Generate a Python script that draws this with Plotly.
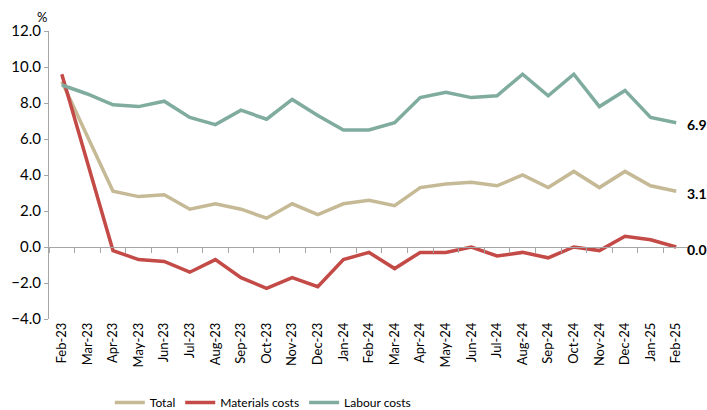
import plotly.graph_objects as go

months = ["Feb-23", "Mar-23", "Apr-23", "May-23", "Jun-23", "Jul-23", "Aug-23",
          "Sep-23", "Oct-23", "Nov-23", "Dec-23", "Jan-24", "Feb-24", "Mar-24",
          "Apr-24", "May-24", "Jun-24", "Jul-24", "Aug-24", "Sep-24", "Oct-24",
          "Nov-24", "Dec-24", "Jan-25", "Feb-25"]

total = [9.2, 6.2, 3.1, 2.8, 2.9, 2.1, 2.4, 2.1, 1.6, 2.4, 1.8, 2.4, 2.6, 2.3,
         3.3, 3.5, 3.6, 3.4, 4.0, 3.3, 4.2, 3.3, 4.2, 3.4, 3.1]
materials = [9.6, 4.7, -0.2, -0.7, -0.8, -1.4, -0.7, -1.7, -2.3, -1.7, -2.2, -0.7,
             -0.3, -1.2, -0.3, -0.3, 0.0, -0.5, -0.3, -0.6, 0.0, -0.2, 0.6, 0.4, 0.0]
labour = [9.0, 8.5, 7.9, 7.8, 8.1, 7.2, 6.8, 7.6, 7.1, 8.2, 7.3, 6.5, 6.5, 6.9,
          8.3, 8.6, 8.3, 8.4, 9.6, 8.4, 9.6, 7.8, 8.7, 7.2, 6.9]

series_names = ["Total", "Materials costs", "Labour costs"]
series_values = [total, materials, labour]
series_colors = ["#C5B996", "#C34A46", "#7FAC9E"]

FONT = "Lato"
AXIS_GREY = "#A6A6A6"

fig = go.Figure()
for name, vals, col in zip(series_names, series_values, series_colors):
    fig.add_trace(go.Scatter(x=months, y=vals, name=name, mode="lines",
                             line=dict(color=col, width=3.5), hoverinfo="skip"))

# invisible helper trace so the zero-line category axis has its categories
fig.add_trace(go.Scatter(x=months, y=total, xaxis="x2", mode="lines",
                         line=dict(width=0, color="rgba(0,0,0,0)"),
                         showlegend=False, hoverinfo="skip"))

# end-of-series value labels
for vals in series_values:
    fig.add_annotation(x=months[-1], y=vals[-1], text=f"<b>{vals[-1]:.1f}</b>",
                       showarrow=False, xanchor="left", yanchor="middle",
                       xshift=9, yshift=-2,
                       font=dict(family=FONT, size=14, color="#000000"))

fig.add_annotation(x=0, y=1, xref="paper", yref="paper", text="%",
                   showarrow=False, xanchor="right", yanchor="bottom",
                   xshift=0, yshift=4,
                   font=dict(family=FONT, size=13, color="#000000"))

fig.update_layout(
    width=707, height=410,
    margin=dict(l=49, r=18, t=31, b=91, autoexpand=False),
    paper_bgcolor="white", plot_bgcolor="white",
    font=dict(family=FONT, size=13, color="#000000"),
    showlegend=True,
    legend=dict(orientation="h", x=0.095, y=0.018, xanchor="left", yanchor="middle",
                xref="paper", yref="container",
                font=dict(family=FONT, size=12, color="#000000"),
                itemwidth=30, tracegroupgap=0),
    xaxis=dict(type="category", categoryorder="array", categoryarray=months,
               range=[-0.5, len(months) - 0.5], showline=False, ticks="",
               showgrid=False, zeroline=False, tickangle=-90, automargin=False,
               tickfont=dict(family=FONT, size=13, color="#000000")),
    xaxis2=dict(type="category", categoryorder="array", categoryarray=months,
                range=[-0.5, len(months) - 0.5], overlaying="x", anchor="free",
                position=0.25, showline=True, linecolor=AXIS_GREY, linewidth=1,
                ticks="outside", tickson="boundaries", ticklen=5,
                tickcolor=AXIS_GREY, showticklabels=False, showgrid=False,
                zeroline=False),
    yaxis=dict(range=[-4, 12], dtick=2, tickformat=".1f", showgrid=False,
               zeroline=False, showline=True, linecolor=AXIS_GREY, linewidth=1,
               ticks="outside", ticklen=4, tickcolor=AXIS_GREY, automargin=False,
               tickfont=dict(family=FONT, size=15, color="#000000")),
)

fig.write_html("out.html")
